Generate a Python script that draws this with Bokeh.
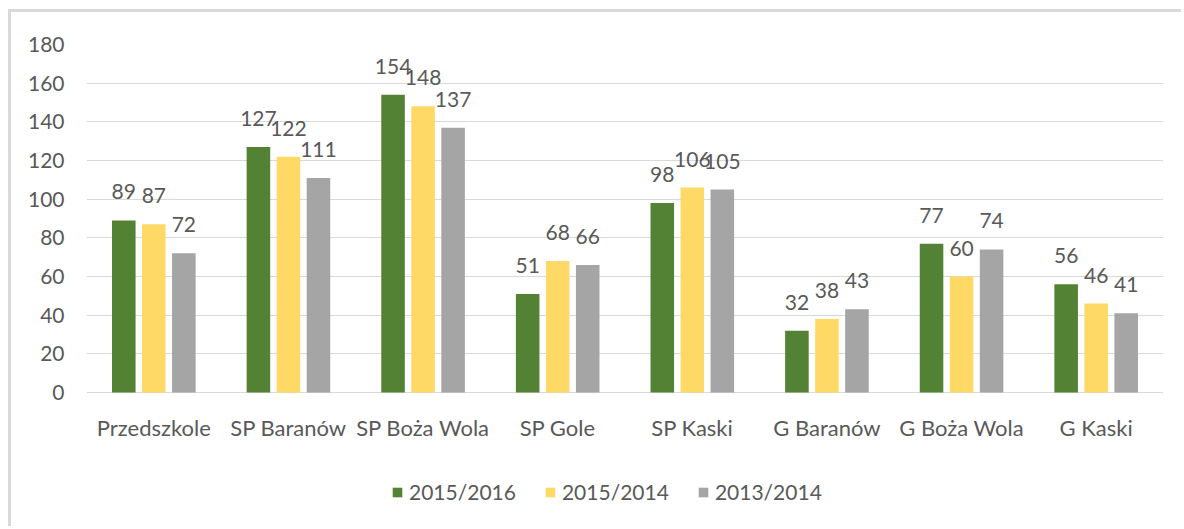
from bokeh.plotting import figure
from bokeh.models import (ColumnDataSource, FactorRange, Range1d, Legend, LegendItem,
                          LabelSet, FixedTicker)
from bokeh.core.properties import value
from bokeh.transform import dodge
from bokeh.embed import file_html
from bokeh.resources import INLINE

categories = ["Przedszkole", "SP Baranów", "SP Boża Wola", "SP Gole",
              "SP Kaski", "G Baranów", "G Boża Wola", "G Kaski"]
series_names = ["2015/2016", "2015/2014", "2013/2014"]
values_2015_2016 = [89, 127, 154, 51, 98, 32, 77, 56]
values_2015_2014 = [87, 122, 148, 68, 106, 38, 60, 46]
values_2013_2014 = [72, 111, 137, 66, 105, 43, 74, 41]
y_ticks = [0, 20, 40, 60, 80, 100, 120, 140, 160, 180]

colors = ["#548235", "#FFD966", "#A5A5A5"]
offsets = [-0.223, 0.0, 0.223]
text_color = "#595959"
FONT = "Lato"

series = [values_2015_2016, values_2015_2014, values_2013_2014]
data = dict(cat=categories)
for i, vals in enumerate(series):
    data[f"s{i}"] = vals
    data[f"l{i}"] = [str(v) for v in vals]
src = ColumnDataSource(data)

# frame spans 44..519 px; value 0 sits at 392 px (348 px per 180 units)
y_low = -(519 - 392) * 180 / 348

p = figure(x_range=FactorRange(*categories, range_padding=0, factor_padding=0),
           y_range=Range1d(y_low, 180),
           width=1173, height=517,
           output_backend="svg", toolbar_location=None,
           min_border_left=75, min_border_right=21,
           min_border_top=32, min_border_bottom=10,
           styles={"border-left": "3px solid #D9D9D9", "border-top": "3px solid #D9D9D9",
                   "transform": "translate(8px, 9px)"})

renderers = []
for i in range(3):
    r = p.vbar(x=dodge("cat", offsets[i], range=p.x_range), top=f"s{i}", width=0.175,
               source=src, fill_color=colors[i], line_color=None)
    renderers.append(r)
    labels = LabelSet(x=dodge("cat", offsets[i], range=p.x_range), y=f"s{i}", text=f"l{i}",
                      source=src, text_align="center", text_baseline="alphabetic",
                      y_offset=21, text_font=value(FONT), text_font_size="21px",
                      text_color=text_color)
    p.add_layout(labels)

p.xgrid.grid_line_color = None
p.ygrid.grid_line_color = "#D9D9D9"
p.ygrid.grid_line_width = 1
p.outline_line_color = None

p.yaxis.ticker = FixedTicker(ticks=y_ticks)
for ax in (p.xaxis[0], p.yaxis[0]):
    ax.axis_line_color = None
    ax.major_tick_line_color = None
    ax.minor_tick_line_color = None
    ax.major_tick_out = 0
    ax.minor_tick_out = 0
    ax.major_label_text_font = FONT
    ax.major_label_text_color = text_color
p.yaxis.major_label_text_font_size = "21px"
p.yaxis.major_label_standoff = 22
p.xaxis.fixed_location = 0
p.xaxis.major_label_text_font_size = "22px"
p.xaxis.major_label_standoff = 21

legend = Legend(items=[LegendItem(label=series_names[i], renderers=[renderers[i]]) for i in range(3)],
                orientation="horizontal", location=(305, 15),
                glyph_width=12, glyph_height=12, label_standoff=6, spacing=28,
                padding=0, margin=0, border_line_color=None, background_fill_alpha=0,
                label_text_font=FONT, label_text_font_size="21px",
                label_text_color=text_color, label_height=24)
p.add_layout(legend)

open("out.html", "w").write(file_html(p, INLINE))
